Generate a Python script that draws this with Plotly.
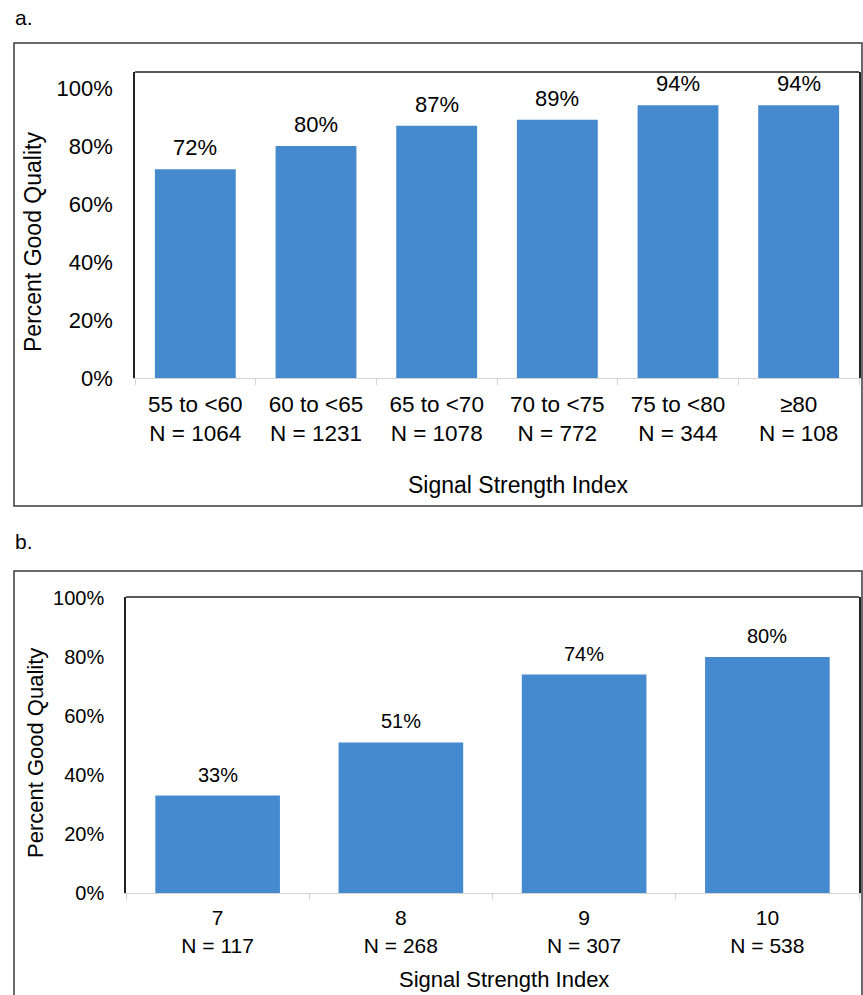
import plotly.graph_objects as go

# ---- data ----
cats_a = ["55 to <60", "60 to <65", "65 to <70", "70 to <75", "75 to <80", "≥80"]
n_a = [1064, 1231, 1078, 772, 344, 108]
vals_a = [0.72, 0.80, 0.87, 0.89, 0.94, 0.94]

cats_b = ["7", "8", "9", "10"]
n_b = [117, 268, 307, 538]
vals_b = [0.33, 0.51, 0.74, 0.80]

y_ticks = [0, 0.2, 0.4, 0.6, 0.8, 1.0]
y_ticktext = ["0%", "20%", "40%", "60%", "80%", "100%"]

W, H = 863, 995
FONT = "Liberation Sans, Arial, sans-serif"
BAR = "#4589CE"

labels_a = [f"{c}<br>N = {n}" for c, n in zip(cats_a, n_a)]
labels_b = [f"{c}<br>N = {n}" for c, n in zip(cats_b, n_b)]

fig = go.Figure()
fig.add_trace(go.Bar(x=labels_a, y=vals_a, marker=dict(color=BAR, line=dict(width=0)),
                     width=0.67, xaxis="x", yaxis="y", showlegend=False))
fig.add_trace(go.Bar(x=labels_b, y=vals_b, marker=dict(color=BAR, line=dict(width=0)),
                     width=0.68, xaxis="x2", yaxis="y2", showlegend=False))

def px_x(v):
    return v / W

def px_y(v):
    return 1 - v / H

annotations = []
# value labels
for lab, v in zip(labels_a, vals_a):
    annotations.append(dict(x=lab, y=v, xref="x", yref="y", text=f"{round(v*100)}%",
                            showarrow=False, yanchor="bottom", yshift=7,
                            font=dict(size=22, color="black", family=FONT)))
for lab, v in zip(labels_b, vals_b):
    annotations.append(dict(x=lab, y=v, xref="x2", yref="y2", text=f"{round(v*100)}%",
                            showarrow=False, yanchor="bottom", yshift=8,
                            font=dict(size=20, color="black", family=FONT)))
# panel letters
annotations.append(dict(x=px_x(13), y=px_y(17), xref="paper", yref="paper", text="a.",
                        showarrow=False, xanchor="left", yanchor="middle",
                        font=dict(size=21, color="black", family=FONT)))
annotations.append(dict(x=px_x(13), y=px_y(541), xref="paper", yref="paper", text="b.",
                        showarrow=False, xanchor="left", yanchor="middle",
                        font=dict(size=21, color="black", family=FONT)))
# axis titles
annotations.append(dict(x=px_x(518), y=px_y(485), xref="paper", yref="paper",
                        text="Signal Strength Index", showarrow=False,
                        xanchor="center", yanchor="middle",
                        font=dict(size=23, color="black", family=FONT)))
annotations.append(dict(x=px_x(33), y=px_y(242), xref="paper", yref="paper",
                        text="Percent Good Quality", showarrow=False, textangle=-90,
                        xanchor="center", yanchor="middle",
                        font=dict(size=23, color="black", family=FONT)))
annotations.append(dict(x=px_x(504), y=px_y(979), xref="paper", yref="paper",
                        text="Signal Strength Index", showarrow=False,
                        xanchor="center", yanchor="middle",
                        font=dict(size=22, color="black", family=FONT)))
annotations.append(dict(x=px_x(35), y=px_y(753), xref="paper", yref="paper",
                        text="Percent Good Quality", showarrow=False, textangle=-90,
                        xanchor="center", yanchor="middle",
                        font=dict(size=22, color="black", family=FONT)))

shapes = [
    # outer frames
    dict(type="rect", xref="paper", yref="paper", x0=px_x(14), x1=px_x(862),
         y0=px_y(506), y1=px_y(43), line=dict(color="#3a3a3a", width=1.5)),
    dict(type="rect", xref="paper", yref="paper", x0=px_x(14), x1=px_x(862),
         y0=px_y(996), y1=px_y(571), line=dict(color="#3a3a3a", width=1.5)),
    # top borders of plot areas
    dict(type="line", xref="x domain", yref="y domain", x0=0, x1=1, y0=1, y1=1,
         line=dict(color="#222", width=1.5)),
    dict(type="line", xref="x2 domain", yref="y2 domain", x0=0, x1=1, y0=1, y1=1,
         line=dict(color="#222", width=1.5)),
]

xcommon = dict(type="category", showline=True, linecolor="#d4d4d4", linewidth=1,
               ticks="outside", tickson="boundaries", ticklen=6, tickcolor="#d4d4d4",
               showgrid=False, zeroline=False, fixedrange=True, automargin=False)
ycommon = dict(showline=True, mirror=True, linecolor="#222", linewidth=1.5,
               showgrid=False, zeroline=False, tickvals=y_ticks, ticktext=y_ticktext,
               ticks="", fixedrange=True, automargin=False)

fig.update_layout(
    width=W, height=H,
    margin=dict(l=0, r=0, t=0, b=0, pad=0, autoexpand=False),
    paper_bgcolor="white", plot_bgcolor="white",
    font=dict(family=FONT, color="black"),
    bargap=0.33,
    xaxis=dict(**xcommon, domain=[px_x(135), px_x(859)], anchor="y",
               tickfont=dict(size=22.5, color="black", family=FONT), ticklabelstandoff=6),
    yaxis=dict(**ycommon, domain=[px_y(378), px_y(72)], anchor="x", range=[0, 1.055],
               tickfont=dict(size=22, color="black", family=FONT), ticklabelstandoff=16),
    xaxis2=dict(**xcommon, domain=[px_x(126), px_x(859)], anchor="y2",
                tickfont=dict(size=21, color="black", family=FONT), ticklabelstandoff=6),
    yaxis2=dict(**ycommon, domain=[px_y(893), px_y(597)], anchor="x2", range=[0, 1.003],
                tickfont=dict(size=20, color="black", family=FONT), ticklabelstandoff=16),
    annotations=annotations,
    shapes=shapes,
)

fig.write_html("out.html")
